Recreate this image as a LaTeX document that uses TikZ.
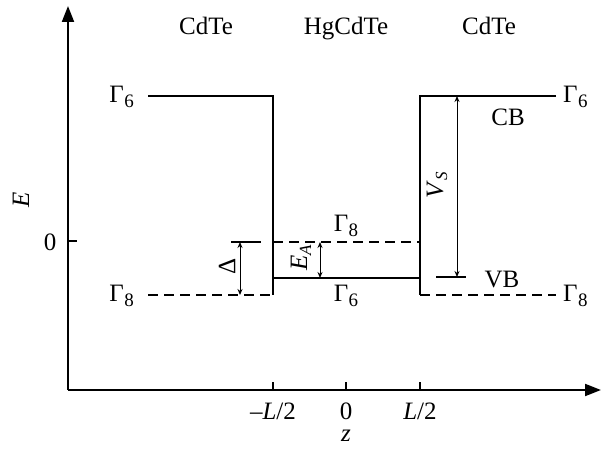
\documentclass[tikz,border=0pt]{standalone}
\usepackage{fontspec}
\setmainfont{Liberation Serif}
\usetikzlibrary{arrows.meta}
\newcommand{\Gam}[1]{Γ\kern0.5pt\raisebox{-0.4ex}{\fontsize{19}{20}\selectfont #1}}
\newcommand{\SubI}[2]{\textit{#1}\raisebox{-0.35ex}{\fontsize{17}{18}\selectfont\textit{#2}}}
\begin{document}
\begin{tikzpicture}[x=1pt,y=-1pt,
  band/.style={line width=2pt},
  bandd/.style={line width=2pt,dash pattern=on 10pt off 6pt},
  axis/.style={line width=2pt},
  dim/.style={line width=1pt,{Stealth[length=6pt,width=5pt]}-{Stealth[length=6pt,width=5pt]}},
  lab/.style={font=\fontsize{25}{29}\selectfont,inner sep=0pt},
]
\useasboundingbox (0,0) rectangle (603,454);
% axes
\coordinate (O) at (68,390);
\coordinate (Ytop) at (68,6);
\coordinate (Xend) at (601,390);
\draw[axis,-{Triangle[length=16pt,width=12pt]}] (O) -- (Ytop);
\draw[axis,-{Triangle[length=16pt,width=12pt]}] (O) -- (Xend);
\draw[line width=1.2pt] (68,241) -- (77,241);
\foreach \x in {273,346,420} \draw[line width=1.2pt] (\x,390) -- (\x,382);
% bands
\coordinate (LCB) at (148,96);
\coordinate (LVB) at (148,295);
\coordinate (WL) at (273,96);
\coordinate (WLb) at (273,295);
\coordinate (WR) at (420,96);
\coordinate (WRb) at (420,295);
\coordinate (RCB) at (556,96);
\coordinate (RVB) at (556,295);
\draw[band] (LCB) -- (WL) -- (WLb);
\draw[bandd] (LVB) -- (WLb);
\draw[bandd] (273,242) -- (420,242);
\draw[band] (273,278) -- (420,278);
\draw[band] (RCB) -- (WR) -- (WRb);
\draw[bandd] (WRb) -- (RVB);
% dimension lines
\draw[line width=1.2pt] (231,242) -- (261,242);
\draw[line width=1.2pt] (436,277) -- (466,277);
\coordinate (Dt) at (240,242); \coordinate (Db) at (240,295);
\coordinate (Et) at (320,242); \coordinate (Eb) at (320,278);
\coordinate (Vt) at (457,96); \coordinate (Vb) at (457,277);
\draw[dim] (Dt) -- (Db);
\draw[dim] (Et) -- (Eb);
\draw[dim] (Vt) -- (Vb);
% labels
\node[lab,anchor=base] (cd1) at (206,35) {CdTe};
\node[lab,anchor=base] (hg) at (346,35) {HgCdTe};
\node[lab,anchor=base] (cd2) at (489,35) {CdTe};
\node[lab,anchor=east] (g6l) at (134,97) {\Gam{6}};
\node[lab,anchor=east] (g8l) at (134,296) {\Gam{8}};
\node[lab,anchor=west] (g6r) at (563,97) {\Gam{6}};
\node[lab,anchor=west] (g8r) at (563,296) {\Gam{8}};
\node[lab] (g8w) at (346,226) {\Gam{8}};
\node[lab] (g6w) at (346,296) {\Gam{6}};
\node[lab] (cb) at (508,117) {CB};
\node[lab] (vb) at (502,280) {VB};
\node[lab,rotate=90] (dl) at (227,266) {Δ};
\node[lab,rotate=90] (ea) at (301,258) {\SubI{E}{A}};
\node[lab,rotate=90] (vs) at (437,185) {\SubI{V}{S}};
\node[lab,rotate=90] (el) at (21,200) {\textit{E}};
\node[lab] (zero) at (50,242) {0};
\node[lab] (ml) at (273,411) {–\textit{L}/2};
\node[lab] (z0) at (346,411) {0};
\node[lab] (pl) at (420,411) {\textit{L}/2};
\node[lab] (zl) at (346,436) {\textit{z}};
\end{tikzpicture}
\end{document}
